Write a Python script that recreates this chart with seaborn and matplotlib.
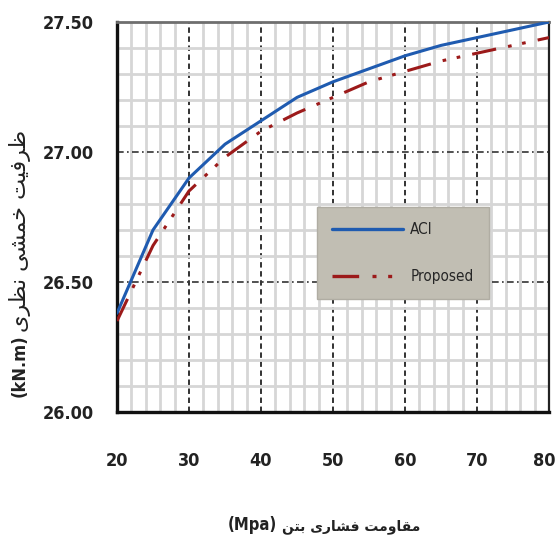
import matplotlib
matplotlib.use("Agg")
import matplotlib.pyplot as plt
from matplotlib.ticker import MultipleLocator
from matplotlib.transforms import ScaledTranslation
import seaborn as sns
import pandas as pd

# ---- data ----
strength = [20, 25, 30, 35, 40, 45, 50, 55, 60, 65, 70, 75, 80]
aci = [26.38, 26.70, 26.90, 27.03, 27.12, 27.21, 27.27, 27.32, 27.37, 27.41, 27.44, 27.47, 27.50]
proposed = [26.35, 26.64, 26.85, 26.98, 27.08, 27.15, 27.21, 27.27, 27.31, 27.35, 27.38, 27.41, 27.44]
series_names = ["ACI", "Proposed"]
x_ticks = [20, 30, 40, 50, 60, 70, 80]
y_ticks = [26.00, 26.50, 27.00, 27.50]

# Persian labels (pre-shaped presentation forms, visual order)
def visual(codes):
    return "".join(chr(c) if isinstance(c, int) else c for c in codes)[::-1]

ylab_fa = visual([0xFEC7, 0xFEAE, 0xFED3, 0xFEF4, 0xFE96, " ",
                  0xFEA7, 0xFEE4, 0xFEB8, 0xFEF0, " ",
                  0xFEE7, 0xFEC8, 0xFEAE, 0xFEEF])
xlab_fa = visual([0xFEE3, 0xFED8, 0xFE8E, 0xFEED, 0xFEE3, 0xFE96, " ",
                  0xFED3, 0xFEB8, 0xFE8E, 0xFEAD, 0xFEEF, " ",
                  0xFE91, 0xFE98, 0xFEE6])
y_unit = "(kN.m)"
x_unit = "(Mpa)"

df = pd.DataFrame({
    "x": strength * 2,
    "y": aci + proposed,
    "series": [series_names[0]] * len(strength) + [series_names[1]] * len(strength),
})

sns.set_style("white")
FONT = ["DejaVu Sans"]
plt.rcParams["font.family"] = FONT

fig = plt.figure(figsize=(5.58, 5.40), dpi=100)
ax = fig.add_axes([117 / 558, 1 - 412 / 540, 432 / 558, 390 / 540])

sns.lineplot(
    data=df, x="x", y="y", hue="series", style="series", ax=ax,
    palette={"ACI": "#1f5bb0", "Proposed": "#9c1a1a"},
    dashes={"ACI": "", "Proposed": (8, 4, 1.2, 3.5, 1.2, 4)},
    linewidth=2.2, zorder=5, legend=True,
)

ax.set_xlim(20, 80)
ax.set_ylim(26.0, 27.5)
ax.set_xticks(x_ticks)
ax.set_yticks(y_ticks)
ax.set_yticklabels([f"{v:.2f}" for v in y_ticks])
ax.xaxis.set_minor_locator(MultipleLocator(2))
ax.yaxis.set_minor_locator(MultipleLocator(0.1))

ax.set_axisbelow(True)
ax.grid(which="minor", color="#d6d6d6", linewidth=2.0, zorder=0)
ax.xaxis.grid(which="major", color="#222222", linewidth=1.3, linestyle=(0, (3, 2)))
ax.yaxis.grid(which="major", color="#333333", linewidth=1.2, linestyle=(0, (4, 2, 1, 2)))

ax.tick_params(axis="both", which="major", direction="inout", length=7, width=1.2,
               color="#222222", labelsize=13)
ax.tick_params(axis="both", which="minor", direction="in", length=3, width=1, color="#444444")
ax.tick_params(axis="x", which="major", pad=25)
ax.tick_params(axis="y", which="major", pad=13)
for lab in ax.get_xticklabels() + ax.get_yticklabels():
    lab.set_fontweight("bold")
    lab.set_fontstretch("condensed")
    lab.set_color("#222222")
last = ax.get_xticklabels()[-1]
last.set_transform(last.get_transform() + ScaledTranslation(-5 / 100, 0, fig.dpi_scale_trans))

for s in ["left", "bottom"]:
    ax.spines[s].set_color("#111111")
    ax.spines[s].set_linewidth(2.4)
ax.spines["top"].set_color("#6e6e6e")
ax.spines["top"].set_linewidth(2.0)
ax.spines["right"].set_color("#222222")
ax.spines["right"].set_linewidth(1.6)

ax.set_xlabel("")
ax.set_ylabel("")
# x label: unit on the left, Persian text on the right
fig.text(277 / 558, 1 - 525 / 540, x_unit, ha="right", va="center",
         fontsize=12, fontweight="bold", fontstretch="condensed", family=FONT, color="#222222")
fig.text(282 / 558, 1 - 527 / 540, xlab_fa, ha="left", va="center",
         fontsize=10, fontweight="bold", family=FONT, color="#222222")
# y label: unit at bottom, Persian text above
fig.text(20 / 558, 1 - 366 / 540, y_unit, ha="center", va="center", rotation=90,
         fontsize=13, fontweight="bold", fontstretch="condensed", family=FONT, color="#222222")
fig.text(20 / 558, 1 - 332 / 540, ylab_fa, ha="center", va="bottom", rotation=90,
         fontsize=16, family=FONT, color="#222222")

handles, labels = ax.get_legend_handles_labels()
leg = ax.legend(handles, labels, loc="upper left", bbox_to_anchor=(0.463, 0.526),
                borderaxespad=0,
                frameon=True, fancybox=False, framealpha=1, facecolor="#c1beb3",
                edgecolor="#b0ada3",
                prop={"family": FONT, "size": 11, "stretch": "condensed"},
                handlelength=4.6, handletextpad=0.5, labelspacing=2.1, borderpad=1.0)
leg.get_frame().set_linewidth(1.0)
for line in leg.get_lines():
    line.set_linewidth(2.4)

fig.savefig("out.png", dpi=100)
